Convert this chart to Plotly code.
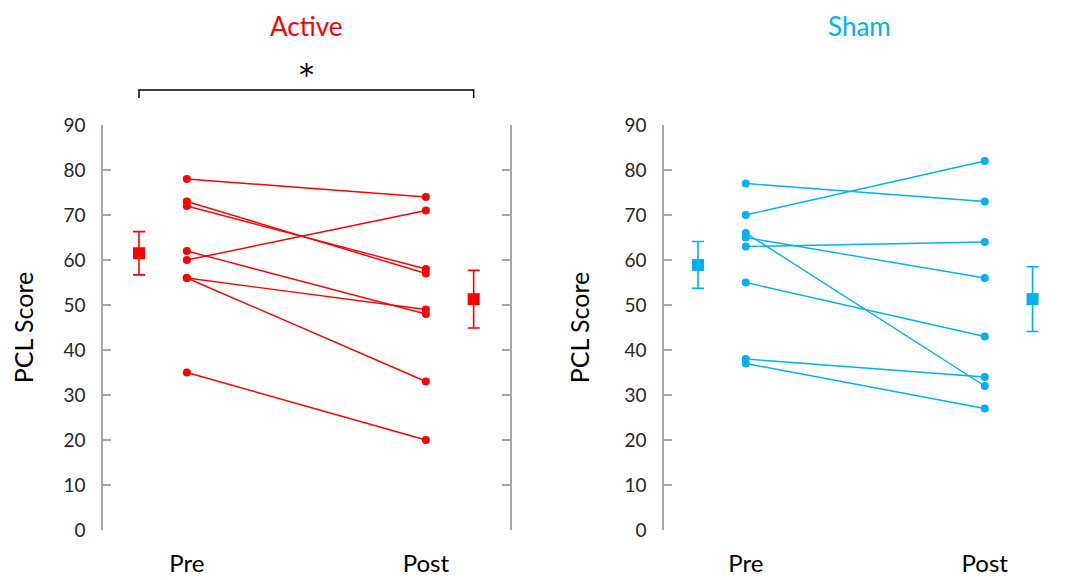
import plotly.graph_objects as go

# ---------------- data ----------------
timepoints = ["Pre", "Post"]
y_ticks = [0, 10, 20, 30, 40, 50, 60, 70, 80, 90]

active_pre = [78, 73, 72, 62, 60, 56, 56, 35]
active_post = [74, 57, 58, 48, 71, 49, 33, 20]
active_mean = [61.5, 51.3]
active_sem = [4.8, 6.4]

sham_pre = [77, 70, 66, 65, 63, 55, 38, 37]
sham_post = [73, 82, 32, 56, 64, 43, 34, 27]
sham_mean = [58.9, 51.3]
sham_sem = [5.2, 7.2]

# x positions on each panel's numeric axis
X_SUBJ = [1, 6]      # Pre, Post individual points
X_MEAN = [0, 7]      # group means drawn outside the paired lines

RED = "#FF0000"
BLUE = "#00B0F0"
AXIS_GRAY = "#A6A6A6"
TEXT = "#262626"
FONT = "Lato"

# the page body has an 8px margin, so the figure is 8px smaller than the window
PAGE_MARGIN = 8
W, H = 1066 - PAGE_MARGIN, 580 - PAGE_MARGIN

fig = go.Figure()


def add_panel(pre, post, mean, sem, color, xa, ya):
    xs, ys = [], []
    for a, b in zip(pre, post):
        xs += [X_SUBJ[0], X_SUBJ[1], None]
        ys += [a, b, None]
    fig.add_trace(go.Scatter(
        x=xs, y=ys, mode="lines+markers", xaxis=xa, yaxis=ya,
        line=dict(color=color, width=1.4),
        marker=dict(color=color, size=8, symbol="circle"),
        showlegend=False, hoverinfo="y"))
    fig.add_trace(go.Scatter(
        x=X_MEAN, y=mean, mode="markers", xaxis=xa, yaxis=ya,
        marker=dict(color=color, size=12, symbol="square"),
        error_y=dict(type="data", array=sem, visible=True, color=color,
                     thickness=1.6, width=6),
        showlegend=False))


add_panel(active_pre, active_post, active_mean, active_sem, RED, "x", "y")
add_panel(sham_pre, sham_post, sham_mean, sham_sem, BLUE, "x2", "y2")

# window-pixel -> paper helpers
def px_x(p):
    return (p - PAGE_MARGIN) / W

def px_y(p):
    return (H - (p - PAGE_MARGIN)) / H

y_dom = [px_y(530), px_y(125)]

yaxis_common = dict(
    range=[0, 90], tickvals=y_ticks, showline=True, linecolor=AXIS_GRAY,
    linewidth=1.5, ticks="inside", ticklen=8, tickcolor=AXIS_GRAY,
    tickwidth=1.5, mirror="ticks", showgrid=False, zeroline=False,
    tickfont=dict(family=FONT, size=19, color=TEXT),
    ticklabelstandoff=12, automargin=False,
    title=dict(text="PCL Score", font=dict(family=FONT, size=25, color="#000000"),
               standoff=28),
    domain=y_dom,
)
xaxis_common = dict(
    tickvals=X_SUBJ, ticktext=timepoints, showline=False, showgrid=False,
    zeroline=False, ticks="", ticklabelstandoff=17, automargin=False,
    tickfont=dict(family=FONT, size=24, color="#000000"),
)

fig.update_layout(
    width=W, height=H,
    margin=dict(l=0, r=0, t=0, b=0, autoexpand=False),
    paper_bgcolor="white", plot_bgcolor="white",
    xaxis=dict(**xaxis_common, domain=[px_x(103), px_x(510)],
               range=[-0.753, 7.76], anchor="y"),
    yaxis=dict(**yaxis_common, anchor="x"),
    xaxis2=dict(**xaxis_common, domain=[px_x(664), 1.0],
                range=[-0.711, 7.70], anchor="y2"),
    yaxis2=dict(**yaxis_common, anchor="x2"),
    showlegend=False,
)

# significance bracket over the Active panel (from pre mean to post mean)
fig.add_shape(type="path", xref="x", yref="paper",
              path=f"M {X_MEAN[0]},{px_y(98)} L {X_MEAN[0]},{px_y(90)} "
                   f"L {X_MEAN[1]},{px_y(90)} L {X_MEAN[1]},{px_y(98)}",
              line=dict(color="#000000", width=1.5))
fig.add_annotation(x=(X_MEAN[0] + X_MEAN[1]) / 2, xref="x", y=px_y(75), yref="paper",
                   text="*", showarrow=False, xanchor="center", yanchor="middle",
                   font=dict(family="DejaVu Sans", size=30, color="#000000"))

# panel titles (top of the text box sits on the top edge of the figure)
fig.add_annotation(x=(X_MEAN[0] + X_MEAN[1]) / 2, xref="x", y=1.0, yref="paper",
                   text="Active", showarrow=False, xanchor="center", yanchor="top",
                   font=dict(family=FONT, size=26, color=RED))
fig.add_annotation(x=px_x(859), xref="paper", y=1.0, yref="paper",
                   text="Sham", showarrow=False, xanchor="center", yanchor="top",
                   font=dict(family=FONT, size=26, color=BLUE))

fig.write_html("out.html")
